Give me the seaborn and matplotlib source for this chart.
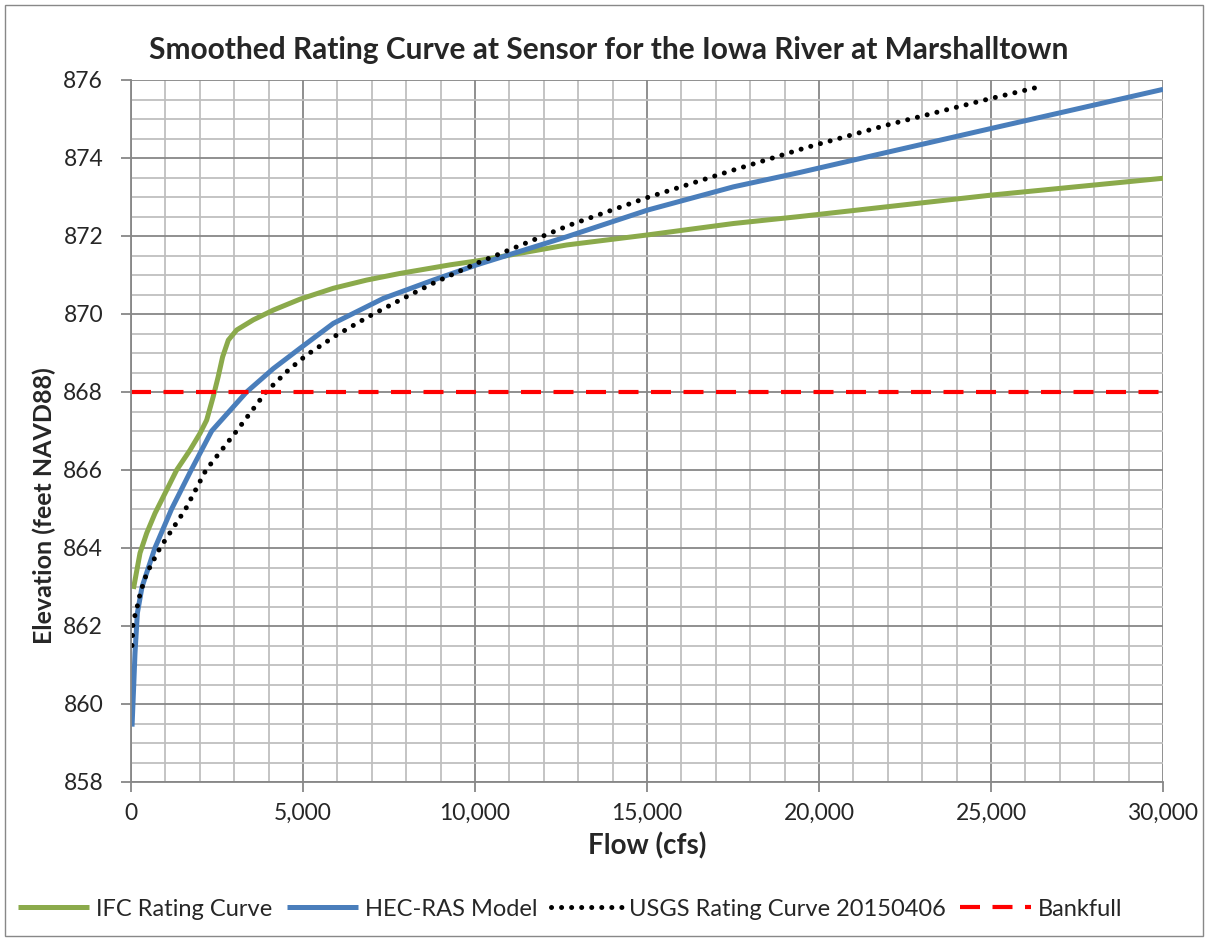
import matplotlib
matplotlib.use("Agg")
import matplotlib.pyplot as plt
from matplotlib.patches import Rectangle
from matplotlib.ticker import MultipleLocator, FuncFormatter
import seaborn as sns

# values
ifc_flow = [70, 262, 456, 698, 988, 1328, 1715, 2006, 2200, 2390, 2534, 2663, 2829,
            3072, 3556, 4137, 4913, 5882, 6851, 7820, 9273, 10049, 12665, 15038,
            17509, 19446, 25019, 30000]
ifc_elev = [862.95, 863.87, 864.38, 864.89, 865.4, 866.0, 866.51, 866.94, 867.28,
            867.88, 868.39, 868.9, 869.33, 869.59, 869.85, 870.1, 870.38, 870.66,
            870.87, 871.04, 871.26, 871.36, 871.77, 872.03, 872.32, 872.5, 873.05,
            873.48]

hec_flow = [30, 80, 116, 185, 320, 695, 1180, 1750, 2345, 3360, 4137, 4913, 5882, 7335,
            8787, 10049, 12665, 15038, 17509, 19446, 22000, 25019, 30000]
hec_elev = [859.42, 860.5, 861.3, 862.33, 863.0, 864.0, 865.0, 866.0, 867.0, 868.0,
            868.6, 869.12, 869.76, 870.4, 870.87, 871.26, 871.98, 872.67, 873.26,
            873.63, 874.15, 874.76, 875.76]

usgs_flow = [30, 60, 165, 240, 337, 456, 843, 1587, 2180, 3070, 3924, 4573, 5107, 5979,
             6899, 7868, 8787, 10049, 12752, 14990, 17509, 19640, 22000, 24874, 26430]
usgs_elev = [861.5, 862.1, 862.43, 862.74, 863.03, 863.35, 864.0, 865.0, 866.0, 867.0,
             868.0, 868.56, 868.95, 869.46, 869.93, 870.38, 870.79, 871.3, 872.28,
             872.98, 873.69, 874.27, 874.85, 875.5, 875.83]

bank_flow = [0, 30000]
bank_elev = [868, 868]

sns.set_style("white")
plt.rcParams['font.family'] = ['Lato', 'DejaVu Sans']

fig = plt.figure(figsize=(12.08, 9.41), dpi=100)
ax = fig.add_axes([131 / 1208, 1 - 782 / 941, (1163 - 131) / 1208, (782 - 80) / 941])

sns.lineplot(x=ifc_flow, y=ifc_elev, sort=False, estimator=None, ax=ax,
             color='#8BAA4B', linewidth=3.6, label='IFC Rating Curve',
             solid_joinstyle='round', solid_capstyle='butt')
sns.lineplot(x=hec_flow, y=hec_elev, sort=False, estimator=None, ax=ax,
             color='#4A7EBB', linewidth=3.6, label='HEC-RAS Model',
             solid_joinstyle='round', solid_capstyle='butt')
sns.lineplot(x=usgs_flow, y=usgs_elev, sort=False, estimator=None, ax=ax,
             color='black', linewidth=3.6, linestyle=(0, (0.01, 2.0)),
             dash_capstyle='round', label='USGS Rating Curve 20150406')
sns.lineplot(x=bank_flow, y=bank_elev, sort=False, estimator=None, ax=ax,
             color='#FF0000', linewidth=3.0, linestyle=(0, (4.8, 3.0)),
             label='Bankfull')

ax.set_xlim(0, 30000)
ax.set_ylim(858, 876)
ax.xaxis.set_major_locator(MultipleLocator(5000))
ax.xaxis.set_minor_locator(MultipleLocator(1000))
ax.yaxis.set_major_locator(MultipleLocator(2))
ax.yaxis.set_minor_locator(MultipleLocator(0.5))
ax.xaxis.set_major_formatter(FuncFormatter(lambda v, p: f"{v:,.0f}"))
ax.yaxis.set_major_formatter(FuncFormatter(lambda v, p: f"{v:.0f}"))

ax.set_axisbelow(True)
ax.grid(which='minor', color='#BFBFBF', linewidth=1.3)
ax.grid(which='major', color='#878787', linewidth=1.3)
ax.tick_params(which='major', direction='out', length=7, width=1.3, color='#878787',
               labelsize=16.5, left=True, bottom=True)
ax.tick_params(axis='y', which='major', pad=13)
ax.tick_params(axis='x', which='major', pad=8)
ax.tick_params(which='minor', length=0)
for side in ['top', 'right']:
    ax.spines[side].set_visible(False)
for side in ['left', 'bottom']:
    ax.spines[side].set_color('#878787')
    ax.spines[side].set_linewidth(1.3)

# Excel centres the title on the whole chart, not on the plot area
ax.set_title('Smoothed Rating Curve at Sensor for the Iowa River at Marshalltown',
             fontsize=21.5, fontweight='bold', pad=15, x=0.463)
ax.set_xlabel('Flow (cfs)', fontsize=20, fontweight='bold', labelpad=6)
ax.set_ylabel('Elevation (feet NAVD88)', fontsize=18, fontweight='bold')
ax.yaxis.set_label_coords(-0.073, 0.393)

ax.legend(loc='center', bbox_to_anchor=(0.426, -0.181), ncol=4, frameon=False,
          fontsize=17, handlelength=3.0, handletextpad=0.3, columnspacing=0.6)

fig.patches.append(Rectangle((0.004, 0.005), 0.992, 0.99, transform=fig.transFigure,
                             fill=False, edgecolor='#888888', linewidth=1.0))

fig.savefig('out.png', dpi=100)
